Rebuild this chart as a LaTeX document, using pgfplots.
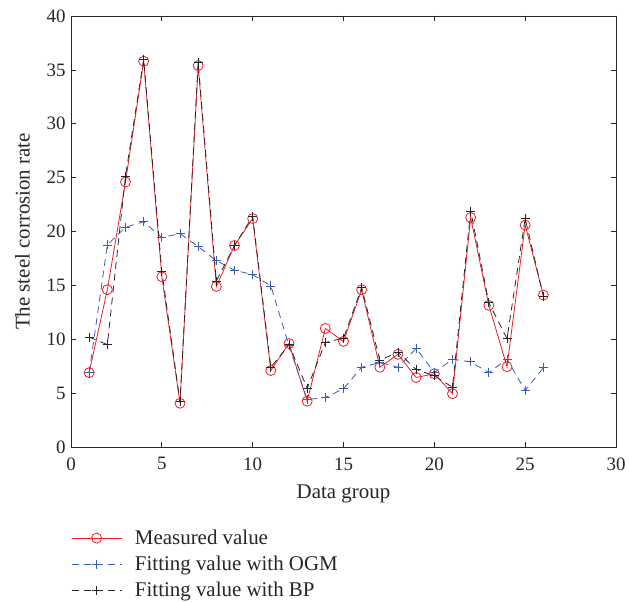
\documentclass[border=0pt]{standalone}
\usepackage{fontspec}
\setmainfont{Liberation Serif}
\usepackage{pgfplots}
\pgfplotsset{compat=1.18}
\definecolor{mred}{RGB}{237,28,36}
\definecolor{mblue}{RGB}{58,92,180}
\definecolor{axgray}{RGB}{40,40,40}
\begin{document}
\begin{tikzpicture}
\useasboundingbox (0,0) rectangle (629bp,603bp);
\begin{axis}[
  at={(71bp,156bp)}, anchor=south west,
  scale only axis, width=545bp, height=431bp,
  xmin=0, xmax=30, ymin=0, ymax=40,
  xtick={0,5,...,30}, ytick={0,5,...,40},
  tick align=inside, major tick length=5bp,
  axis line style={axgray, line width=0.9pt},
  tick style={axgray, line width=0.7pt},
  ticklabel style={font=\fontsize{19}{21}\selectfont, text=black!85},
  xticklabel style={yshift=-7bp},
  yticklabel style={xshift=-2bp},
  /pgf/number format/assume math mode=true,
  xlabel={Data group}, ylabel={The steel corrosion rate},
  label style={font=\fontsize{21}{23}\selectfont, text=black!85},
  xlabel style={yshift=-8bp},
  ylabel style={yshift=10bp},
  legend style={at={(rel axis cs:0,-0.19)}, anchor=north west, draw=none, fill=none,
    font=\fontsize{21}{23}\selectfont, text=black!85, row sep=8bp, inner sep=0pt,
    nodes={inner sep=1bp},
    /tikz/every odd column/.append style={column sep=12bp},
    cells={anchor=west}},
  legend cell align=left,
  legend image code/.code={\draw[mark repeat=2,mark phase=2] plot coordinates {(0bp,0bp) (25bp,0bp) (50bp,0bp)};},
]
\addplot[mred, line width=0.8pt, mark=o, mark size=5bp, mark options={solid, line width=0.8pt}] coordinates {
(1,6.9) (2,14.6) (3,24.6) (4,35.8) (5,15.8) (6,4.06) (7,35.4) (8,14.9) (9,18.7) (10,21.2)
(11,7.1) (12,9.6) (13,4.25) (14,11.0) (15,9.8) (16,14.6) (17,7.4) (18,8.6) (19,6.45) (20,6.8)
(21,4.95) (22,21.3) (23,13.15) (24,7.45) (25,20.6) (26,14.1)};
\addlegendentry{Measured value}
\addplot[mblue, line width=0.8pt, dash pattern=on 7bp off 5bp, mark=+, mark size=4.5bp, mark options={solid, line width=0.8pt}] coordinates {
(1,6.9) (2,18.75) (3,20.4) (4,20.9) (5,19.45) (6,19.8) (7,18.6) (8,17.3) (9,16.4) (10,16.0)
(11,14.95) (12,9.4) (13,4.4) (14,4.6) (15,5.4) (16,7.4) (17,7.85) (18,7.4) (19,9.15) (20,6.9)
(21,8.15) (22,7.9) (23,6.9) (24,8.15) (25,5.25) (26,7.35)};
\addlegendentry{Fitting value with OGM}
\addplot[black!85, line width=0.8pt, dash pattern=on 7bp off 5bp, mark=+, mark size=4.5bp, mark options={solid, line width=0.8pt}] coordinates {
(1,10.2) (2,9.5) (3,25.15) (4,36.0) (5,16.3) (6,4.2) (7,35.7) (8,15.4) (9,18.7) (10,21.4)
(11,7.4) (12,9.5) (13,5.45) (14,9.7) (15,10.1) (16,14.8) (17,8.05) (18,8.8) (19,7.2) (20,6.6)
(21,5.55) (22,21.9) (23,13.4) (24,10.05) (25,21.2) (26,14.0)};
\addlegendentry{Fitting value with BP}
\end{axis}
\end{tikzpicture}
\end{document}
